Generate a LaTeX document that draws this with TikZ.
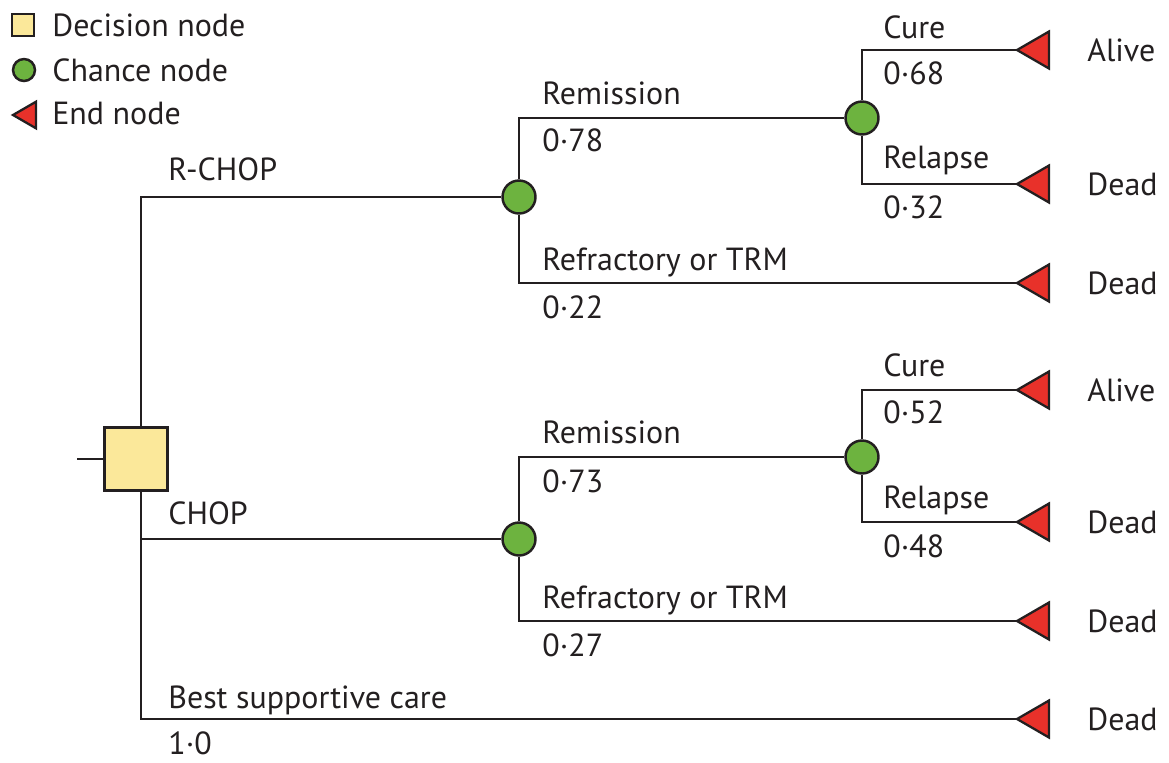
\documentclass[tikz,border=0pt]{standalone}
\usepackage{fontspec}
\setmainfont{PT Sans}
\usetikzlibrary{positioning}

\definecolor{decfill}{HTML}{FBE89A}
\definecolor{chfill}{HTML}{6DB33F}
\definecolor{endfill}{HTML}{E8312A}
\definecolor{ink}{HTML}{231F20}

\tikzset{
  decision/.style={draw=ink, fill=decfill, minimum size=1.26cm, inner sep=0pt, line width=1.4pt},
  chance/.style={circle, draw=ink, fill=chfill, minimum size=0.66cm, inner sep=0pt, line width=1.4pt},
  branch/.style={draw=ink, line width=1.3pt},
  lbl/.style={anchor=base west, inner sep=0pt, text=ink, font=\fontsize{18.2}{21}\selectfont},
  endnode/.pic={\filldraw[fill=endfill, draw=ink, line width=1.3pt, line join=miter]
    (0,0) -- (32,-18.5) -- (32,18.5) -- cycle;}
}

\begin{document}
\begin{tikzpicture}[x=0.02cm, y=-0.02cm]
\useasboundingbox (0,0) rectangle (1169,762);

% ================= LEGEND =================
\node[decision, minimum size=0.44cm] (lgdec) at (23,25) {};
\node[chance, minimum size=0.44cm] (lgch) at (24,70) {};
\pic[scale=0.72] at (13,115) {endnode};
\node[lbl] (lgdectxt) at (52,36) {Decision node};
\node[lbl] (lgchtxt) at (52,81) {Chance node};
\node[lbl] (lgendtxt) at (52,124) {End node};

% ================= TREE NODES =================
\coordinate (root) at (77,459);
\node[decision] (dec) at (136,459) {};

\node[chance] (c1) at (519,197) {};   % R-CHOP
\node[chance] (c2) at (862,118) {};   % R-CHOP remission
\node[chance] (c3) at (519,539) {};   % CHOP
\node[chance] (c4) at (862,457) {};   % CHOP remission

% end points (tips of triangles)
\coordinate (e1) at (1017,50);
\coordinate (e2) at (1017,184);
\coordinate (e3) at (1017,283);
\coordinate (e4) at (1017,390);
\coordinate (e5) at (1017,522);
\coordinate (e6) at (1017,621);
\coordinate (e7) at (1017,719);

% ================= BRANCHES =================
\draw[branch] (root) -- (dec);
\draw[branch] ([xshift=0.1cm]dec.north) |- (c1);
\draw[branch] ([xshift=0.1cm]dec.south) |- (c3);
\draw[branch] ([xshift=0.1cm]dec.south) |- (e7);

\draw[branch] (c1) |- (c2);
\draw[branch] (c1) |- (e3);
\draw[branch] (c2) |- (e1);
\draw[branch] (c2) |- (e2);

\draw[branch] (c3) |- (c4);
\draw[branch] (c3) |- (e6);
\draw[branch] (c4) |- (e4);
\draw[branch] (c4) |- (e5);

\foreach \e in {e1,e2,e3,e4,e5,e6,e7}
  \pic at (\e) {endnode};

% ================= LABELS =================
\node[lbl] (lrchop) at (168,180) {R-CHOP};
\node[lbl] (lchop) at (168,524) {CHOP};
\node[lbl] (lbsc) at (168,708) {Best supportive care};
\node[lbl] (pbsc) at (168,754) {1·0};

\node[lbl] (lrem1) at (542,104) {Remission};
\node[lbl] (prem1) at (542,151) {0·78};
\node[lbl] (lref1) at (542,270) {Refractory or TRM};
\node[lbl] (pref1) at (542,318) {0·22};
\node[lbl] (lcur1) at (883,38) {Cure};
\node[lbl] (pcur1) at (883,84) {0·68};
\node[lbl] (lrel1) at (883,168) {Relapse};
\node[lbl] (prel1) at (883,218) {0·32};

\node[lbl] (lrem2) at (542,443) {Remission};
\node[lbl] (prem2) at (542,492) {0·73};
\node[lbl] (lref2) at (542,608) {Refractory or TRM};
\node[lbl] (pref2) at (542,656) {0·27};
\node[lbl] (lcur2) at (883,376) {Cure};
\node[lbl] (pcur2) at (883,423) {0·52};
\node[lbl] (lrel2) at (883,508) {Relapse};
\node[lbl] (prel2) at (883,557) {0·48};

% outcomes
\node[lbl] (o1) at (1087,61) {Alive};
\node[lbl] (o2) at (1087,195) {Dead};
\node[lbl] (o3) at (1087,294) {Dead};
\node[lbl] (o4) at (1087,401) {Alive};
\node[lbl] (o5) at (1087,533) {Dead};
\node[lbl] (o6) at (1087,632) {Dead};
\node[lbl] (o7) at (1087,730) {Dead};

\end{tikzpicture}
\end{document}
